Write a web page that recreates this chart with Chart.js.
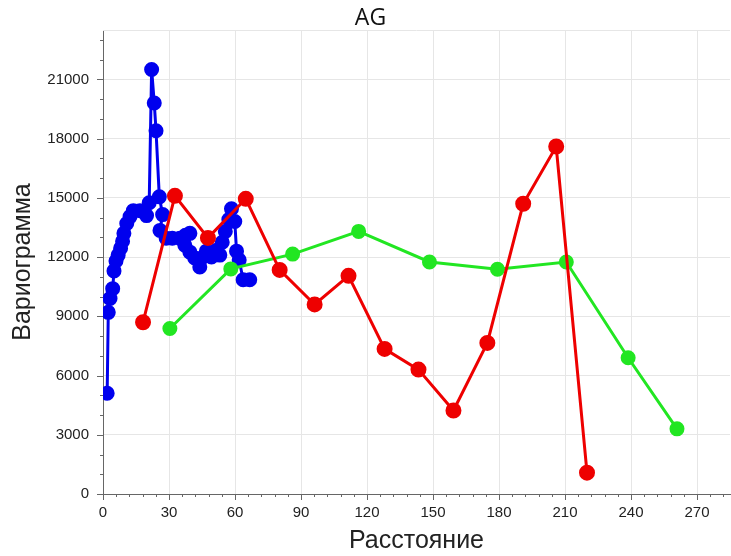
<!DOCTYPE html>
<html>
<head>
<meta charset="utf-8">
<script src="https://cdn.jsdelivr.net/npm/chart.js@4.4.1/dist/chart.umd.min.js"></script>
<style>
    html, body { margin: 0; padding: 0; background: #fff; }
    #wrap { width: 731px; height: 556px; }
</style>
</head>
<body>
<div id="wrap"><canvas id="variogramChart" width="731" height="556"></canvas></div>
<script>
// lag distance / semivariance pairs per direction
const redDist = [18.2, 32.7, 47.7, 64.9, 80.3, 96.2, 111.6, 128.0, 143.4, 159.3, 174.7, 191.0, 206.0, 220.0];
const redGamma = [8700, 15100, 12970, 14950, 11350, 9600, 11050, 7350, 6300, 4230, 7650, 14700, 17600, 1080];

const greenDist = [30.4, 58.1, 86.2, 116.2, 148.4, 179.3, 210.6, 238.7, 260.9];
const greenGamma = [8380, 11400, 12150, 13300, 11750, 11380, 11750, 6900, 3300];

const blueDist = [1.9, 2.4, 3.2, 4.4, 5.0, 5.9, 6.9, 8.0, 8.9, 9.5, 10.8, 12.3, 13.8, 16.8, 19.8, 21.0,
    22.1, 23.3, 24.1, 25.6, 27.1, 25.9, 28.7, 31.5, 34.9, 37.5, 39.5, 37.2, 39.5, 41.7, 44.0, 45.5,
    47.0, 49.3, 51.6, 53.1, 54.2, 55.6, 57.2, 58.4, 59.9, 60.7, 61.9, 63.7, 66.7];
const blueGamma = [5100, 9200, 9900, 10400, 11300, 11800, 12100, 12450, 12800, 13200, 13700, 14050, 14350, 14350, 14100, 14750,
    21500, 19800, 18400, 15050, 14150, 13350, 12950, 12950, 12950, 13100, 13200, 12600, 12250, 11950, 11500, 12000,
    12300, 12000, 12350, 12100, 12750, 13300, 13900, 14450, 13800, 12300, 11850, 10850, 10850];

// axis ranges: a tick every step, labels and grid on every major
const xMax = 285, yMax = 23500;
const xStep = 6, yStep = 1000;
const xMajor = 30, yMajor = 3000;

const range = (max, step) => {
    const out = [];
    for (let v = 0; v <= max; v += step) out.push(v);
    return out;
};
const xTicks = range(xMax, xStep);
const yTicks = range(yMax, yStep);

const toPoints = (xs, ys) => xs.map((x, i) => ({ x: x, y: ys[i] }));

const axisColor = '#666666';
const gridColor = '#e6e6e6';
const clear = 'rgba(0,0,0,0)';

function series(label, color, xs, ys, r) {
    return {
        label: label,
        data: toPoints(xs, ys),
        borderColor: color,
        backgroundColor: color,
        pointBackgroundColor: color,
        pointBorderColor: color,
        borderWidth: 3,
        pointRadius: r,
        pointHoverRadius: r,
        tension: 0
    };
}

// short minor ticks, longer major ones, plus the top frame line
const tickMarks = {
    id: 'tickMarks',
    afterDraw(chart) {
        const ctx = chart.ctx;
        const xs = chart.scales.x, ys = chart.scales.y;
        ctx.save();
        ctx.strokeStyle = gridColor;
        ctx.lineWidth = 1;
        ctx.beginPath();
        const top = Math.round(ys.top) + 0.5;
        ctx.moveTo(xs.left, top);
        ctx.lineTo(xs.right, top);
        ctx.stroke();

        ctx.strokeStyle = axisColor;
        ctx.beginPath();
        xTicks.forEach(v => {
            const px = Math.round(xs.getPixelForValue(v)) + 0.5;
            const len = v % xMajor === 0 ? 6 : 3;
            ctx.moveTo(px, ys.bottom);
            ctx.lineTo(px, ys.bottom + len);
        });
        yTicks.forEach(v => {
            const py = Math.round(ys.getPixelForValue(v)) + 0.5;
            const len = v % yMajor === 0 ? 6 : 3;
            ctx.moveTo(xs.left - len, py);
            ctx.lineTo(xs.left, py);
        });
        ctx.stroke();
        ctx.restore();
    }
};

const majorGrid = major => c => (c.tick && c.tick.value !== 0 && c.tick.value % major === 0) ? gridColor : clear;

new Chart(document.getElementById('variogramChart'), {
    type: 'line',
    data: {
        datasets: [
            series('red', '#ee0000', redDist, redGamma, 6.5),
            series('green', '#22e622', greenDist, greenGamma, 6),
            series('blue', '#0000ee', blueDist, blueGamma, 6)
        ]
    },
    options: {
        responsive: false,
        animation: false,
        layout: { autoPadding: false, padding: { left: 11, right: 1, top: 0, bottom: 0 } },
        plugins: {
            legend: { display: false },
            tooltip: { enabled: false },
            title: {
                display: true,
                text: 'AG',
                color: '#111',
                font: { family: 'Open Sans', size: 23, weight: 'normal', lineHeight: 1 },
                padding: { top: 7, bottom: 0 }
            }
        },
        scales: {
            x: {
                type: 'linear',
                min: 0,
                max: xMax,
                afterBuildTicks: s => { s.ticks = xTicks.map(v => ({ value: v })); },
                afterFit: s => { s.height = 62; },
                border: { color: axisColor, width: 1 },
                grid: { color: majorGrid(xMajor), tickColor: clear, tickLength: 6 },
                ticks: {
                    autoSkip: false,
                    maxRotation: 0,
                    padding: 4,
                    color: '#222',
                    font: { family: 'Liberation Sans', size: 15 },
                    callback: v => v % xMajor === 0 ? String(v) : ''
                },
                title: {
                    display: true,
                    text: 'Расстояние',
                    color: '#222',
                    font: { family: 'Liberation Sans', size: 25, lineHeight: 1 },
                    padding: { top: 0, bottom: 2 }
                }
            },
            y: {
                type: 'linear',
                min: 0,
                max: yMax,
                afterBuildTicks: s => { s.ticks = yTicks.map(v => ({ value: v })); },
                afterFit: s => { s.width = 92; },
                border: { color: axisColor, width: 1 },
                grid: { color: majorGrid(yMajor), tickColor: clear, tickLength: 6 },
                ticks: {
                    autoSkip: false,
                    padding: 8,
                    color: '#222',
                    font: { family: 'Liberation Sans', size: 15 },
                    callback: v => v % yMajor === 0 ? String(v) : ''
                },
                title: {
                    display: true,
                    text: 'Вариограмма',
                    color: '#222',
                    font: { family: 'Liberation Sans', size: 25, lineHeight: 1 },
                    padding: { top: 0, bottom: 0 }
                }
            }
        }
    },
    plugins: [tickMarks]
});
</script>
</body>
</html>
